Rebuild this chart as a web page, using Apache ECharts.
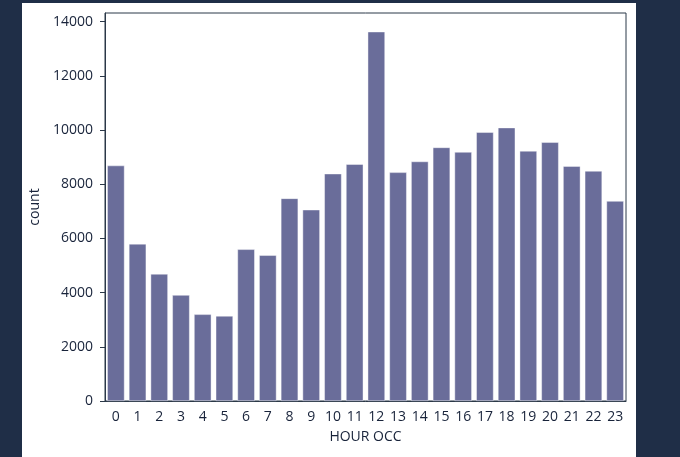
<!DOCTYPE html>
<html>
<head>
    <meta charset="utf-8">
    <title>HOUR OCC</title>
    <script src="https://cdn.jsdelivr.net/npm/echarts@6/dist/echarts.min.js"></script>
    <style>
        html, body { margin: 0; padding: 0; }
        body { width: 680px; height: 457px; background: #1f2e47; position: relative; overflow: hidden; }
        #panel { position: absolute; left: 22px; top: 3px; width: 614px; height: 454px; background: #ffffff; }
        #main { width: 614px; height: 454px; }
    </style>
</head>
<body>
    <div id="panel"><div id="main"></div></div>
    <script>
    var hours = ['0', '1', '2', '3', '4', '5', '6', '7', '8', '9', '10', '11',
        '12', '13', '14', '15', '16', '17', '18', '19', '20', '21', '22', '23'];
    var counts = [8690, 5800, 4690, 3910, 3200, 3140, 5600, 5380, 7480, 7060, 8390, 8740,
        13630, 8440, 8840, 9360, 9190, 9920, 10090, 9230, 9550, 8670, 8490, 7380];
    var yTicks = [0, 2000, 4000, 6000, 8000, 10000, 12000, 14000];

    var ink = '#18233a';
    var font = '"Open Sans", Lato, sans-serif';

    var myChart = echarts.init(document.getElementById('main'));

    var option = {
        animation: false,
        textStyle: { fontFamily: font, color: ink },
        grid: {
            left: 83, top: 10, right: 10, bottom: 56,
            outerBoundsMode: 'none', containLabel: false,
            show: true, borderColor: '#2b3848', borderWidth: 1
        },
        xAxis: {
            type: 'category',
            data: hours,
            name: 'HOUR OCC',
            nameLocation: 'middle',
            nameGap: 29,
            nameTextStyle: { fontSize: 14, color: ink, fontFamily: font },
            axisLine: { lineStyle: { color: '#2b3848', width: 1 } },
            axisTick: { alignWithLabel: true, length: 5, lineStyle: { color: '#2b3848' } },
            axisLabel: { fontSize: 14, color: ink, margin: 9, interval: 0, fontFamily: font }
        },
        yAxis: {
            type: 'value',
            min: 0,
            max: 14320,
            name: 'count',
            nameLocation: 'middle',
            nameGap: 57,
            nameTextStyle: { fontSize: 14, color: ink, fontFamily: font },
            splitLine: { show: false },
            axisLine: { show: true, lineStyle: { color: '#2b3848', width: 1 } },
            axisTick: { show: true, length: 5, customValues: yTicks, lineStyle: { color: '#2b3848' } },
            axisLabel: {
                fontSize: 14, color: ink, margin: 12, customValues: yTicks, fontFamily: font,
                formatter: function (v) { return String(v); }
            }
        },
        series: [{
            type: 'bar',
            data: counts,
            barCategoryGap: '20%',
            itemStyle: { color: '#6a6d9a', borderColor: 'rgba(255,255,255,0.7)', borderWidth: 0.6 }
        }]
    };
    myChart.setOption(option);
    window.onresize = myChart.resize;
    </script>
</body>
</html>
